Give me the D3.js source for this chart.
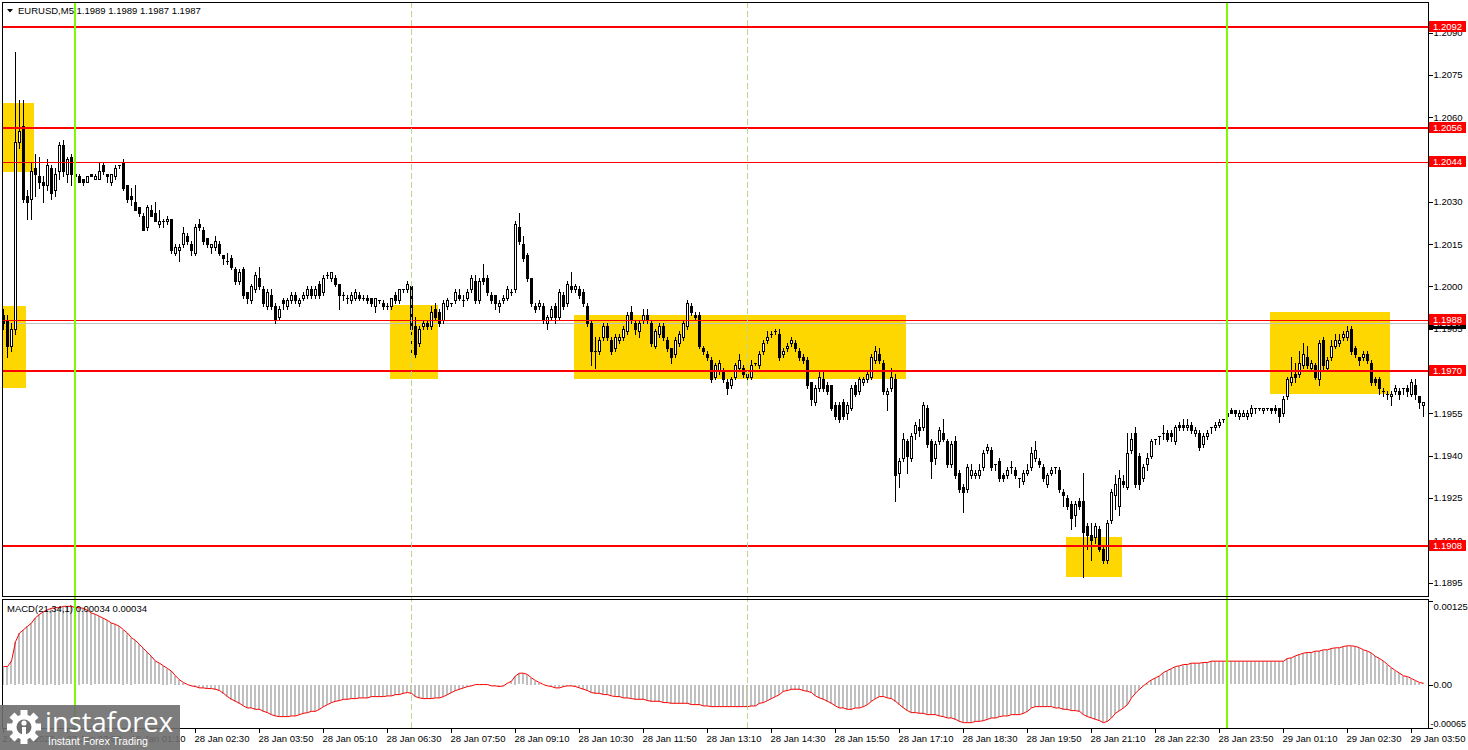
<html>
    <head>
        <script src="https://d3js.org/d3.v7.min.js"></script>
        <style>
            body { margin: 0; background: #fff; }
            svg text { font-family: "Liberation Sans", Arial, sans-serif; font-size: 9.5px; fill: #000; }
            .axis path.domain { display: none; }
            .axis line { stroke: #000; shape-rendering: crispEdges; }
            rect { shape-rendering: crispEdges; }
        </style>
    </head>
    <body>
        <script>
            var symbol = "EURUSD,M5";
            var quote = "1.1989 1.1989 1.1987 1.1987";
            var macdTitle = "MACD(21,34,1) 0.00034 0.00034";

            // one label every 16 bars (80 minutes)
            var timeLabels = ["27 Jan 2026", "27 Jan 23:50", "28 Jan 01:10", "28 Jan 02:30", "28 Jan 03:50",
                "28 Jan 05:10", "28 Jan 06:30", "28 Jan 07:50", "28 Jan 09:10", "28 Jan 10:30", "28 Jan 11:50",
                "28 Jan 13:10", "28 Jan 14:30", "28 Jan 15:50", "28 Jan 17:10", "28 Jan 18:30", "28 Jan 19:50",
                "28 Jan 21:10", "28 Jan 22:30", "28 Jan 23:50", "29 Jan 01:10", "29 Jan 02:30", "29 Jan 03:50"];
            var barsPerLabel = 16;
            var priceTicks = [1.2090, 1.2075, 1.2060, 1.2045, 1.2030, 1.2015, 1.2000, 1.1985, 1.1970,
                1.1955, 1.1940, 1.1925, 1.1910, 1.1895];
            var macdTicks = [0.00125, 0, -0.00065];
            var macdTickLabels = ["0.00125", "0.00", "-0.00065"];

            var strongLevels = [1.2092, 1.2056, 1.1970, 1.1908];
            var weakLevels = [1.2044, 1.1988];
            var bid = 1.1987;

            // yellow zones: first bar, last bar, top price, bottom price
            var zoneStart = [0, 0, 97, 143, 266, 317];
            var zoneEnd = [7, 5, 108, 225, 279, 346];
            var zoneTop = [1.2065, 1.1993, 1.19935, 1.1990, 1.1911, 1.1991];
            var zoneBottom = [1.20405, 1.1964, 1.1967, 1.1967, 1.1897, 1.1962];

            var dayBreaks = [18, 306];      // 00:00 bars
            var dashedMarks = [102, 186];   // 07:00 and 14:00 bars

            // open, high, low, close per 5 minute bar, from 27 Jan 22:30
            var ohlc = [
                [1.1990,1.1992,1.1985,1.1987],[1.1988,1.1990,1.1975,1.1979],[1.1979,1.1987,1.1977,1.1985],[1.1985,1.2083,1.1983,1.2051],
                [1.2051,1.2066,1.2049,1.2055],[1.2057,1.2066,1.2030,1.2031],[1.2032,1.2034,1.2024,1.2030],[1.2031,1.2044,1.2024,1.2041],
                [1.2042,1.2047,1.2032,1.2040],[1.2039,1.2046,1.2035,1.2037],[1.2037,1.2039,1.2030,1.2036],[1.2036,1.2045,1.2034,1.2043],
                [1.2042,1.2043,1.2031,1.2033],[1.2034,1.2042,1.2032,1.2040],[1.2041,1.2051,1.2038,1.2050],[1.2050,1.2052,1.2039,1.2041],
                [1.2040,1.2046,1.2037,1.2045],[1.2046,1.2047,1.2036,1.2040],[1.2039,1.2041,1.2038,1.2040],[1.2039,1.2040,1.2037,1.2037],
                [1.2038,1.2038,1.2036,1.2037],[1.2037,1.2039,1.2037,1.2039],[1.2040,1.2040,1.2039,1.2039],[1.2038,1.2040,1.2038,1.2039],
                [1.2038,1.2044,1.2038,1.2041],[1.2043,1.2044,1.2040,1.2041],[1.2040,1.2040,1.2037,1.2039],[1.2037,1.2040,1.2036,1.2040],
                [1.2039,1.2043,1.2038,1.2042],[1.2043,1.2043,1.2042,1.2043],[1.2044,1.2045,1.2034,1.2035],[1.2036,1.2036,1.2030,1.2031],
                [1.2032,1.2035,1.2029,1.2031],[1.2030,1.2036,1.2027,1.2027],[1.2028,1.2028,1.2025,1.2026],[1.2025,1.2026,1.2020,1.2020],
                [1.2021,1.2029,1.2020,1.2028],[1.2027,1.2029,1.2025,1.2025],[1.2026,1.2030,1.2023,1.2023],[1.2022,1.2027,1.2021,1.2023],
                [1.2023,1.2024,1.2021,1.2023],[1.2023,1.2025,1.2022,1.2024],[1.2024,1.2024,1.2012,1.2013],[1.2012,1.2015,1.2011,1.2014],
                [1.2013,1.2015,1.2009,1.2014],[1.2015,1.2021,1.2014,1.2019],[1.2018,1.2019,1.2015,1.2016],[1.2015,1.2016,1.2011,1.2013],
                [1.2012,1.2022,1.2011,1.2021],[1.2022,1.2024,1.2020,1.2021],[1.2020,1.2021,1.2015,1.2016],[1.2017,1.2017,1.2014,1.2015],
                [1.2014,1.2015,1.2012,1.2015],[1.2014,1.2018,1.2013,1.2016],[1.2015,1.2016,1.2011,1.2012],[1.2011,1.2011,1.2008,1.2010],
                [1.2009,1.2012,1.2008,1.2009],[1.2010,1.2011,1.2006,1.2007],[1.2006,1.2007,1.2001,1.2002],[1.2002,1.2006,1.2001,1.2005],
                [1.2006,1.2007,1.1996,1.1997],[1.1998,1.1998,1.1994,1.1996],[1.1995,1.2001,1.1994,1.2000],[1.1999,1.2005,1.1998,1.2004],
                [1.2003,1.2007,1.1999,1.2000],[1.1999,1.2000,1.1993,1.1994],[1.1993,1.1999,1.1992,1.1998],[1.1997,1.1999,1.1992,1.1993],
                [1.1993,1.1994,1.1987,1.1988],[1.1989,1.1993,1.1988,1.1992],[1.1995,1.1996,1.1992,1.1994],[1.1993,1.1996,1.1992,1.1995],
                [1.1995,1.1998,1.1994,1.1997],[1.1997,1.1998,1.1994,1.1995],[1.1994,1.1996,1.1993,1.1995],[1.1996,1.1998,1.1995,1.1997],
                [1.1997,1.2000,1.1996,1.1999],[1.1999,1.2000,1.1996,1.1997],[1.1997,1.2000,1.1996,1.1999],[1.2001,1.2002,1.1996,1.1997],
                [1.1998,1.2004,1.1997,1.2003],[1.2004,1.2005,1.2003,1.2004],[1.2003,1.2005,1.2002,1.2005],[1.2003,1.2004,1.2000,1.2001],
                [1.2001,1.2001,1.1992,1.1997],[1.1997,1.1998,1.1995,1.1997],[1.1996,1.1997,1.1994,1.1996],[1.1995,1.1998,1.1994,1.1997],
                [1.1996,1.1999,1.1995,1.1998],[1.1997,1.1998,1.1995,1.1996],[1.1996,1.1997,1.1995,1.1996],[1.1996,1.1997,1.1994,1.1995],
                [1.1996,1.1996,1.1993,1.1994],[1.1993,1.1996,1.1991,1.1996],[1.1995,1.1995,1.1994,1.1995],[1.1994,1.1995,1.1992,1.1993],
                [1.1993,1.1994,1.1992,1.1993],[1.1993,1.1996,1.1992,1.1996],[1.1997,1.1998,1.1994,1.1995],[1.1995,1.1999,1.1994,1.1999],
                [1.1999,1.1999,1.1998,1.1999],[1.1999,1.2002,1.1998,1.2001],[1.2000,1.2001,1.1976,1.1985],[1.1986,1.1989,1.1975,1.1976],
                [1.1980,1.1986,1.1979,1.1985],[1.1986,1.1988,1.1985,1.1987],[1.1987,1.1988,1.1985,1.1986],[1.1986,1.1993,1.1985,1.1991],
                [1.1992,1.1994,1.1988,1.1989],[1.1991,1.1992,1.1986,1.1987],[1.1988,1.1995,1.1987,1.1994],[1.1993,1.1996,1.1992,1.1995],
                [1.1994,1.1994,1.1993,1.1994],[1.1995,1.1999,1.1994,1.1998],[1.1997,1.1999,1.1995,1.1996],[1.1995,1.1997,1.1993,1.1995],
                [1.1996,1.1999,1.1995,1.1998],[1.1999,1.2004,1.1998,1.2003],[1.2002,1.2004,1.1994,1.1995],[1.1995,1.2003,1.1994,1.2002],
                [1.2003,1.2008,1.2001,1.2002],[1.2003,1.2004,1.1997,1.1998],[1.1997,1.1998,1.1994,1.1995],[1.1997,1.1997,1.1992,1.1994],
                [1.1993,1.1995,1.1991,1.1994],[1.1995,1.1997,1.1994,1.1996],[1.1996,1.2000,1.1995,1.1999],[1.1998,1.1999,1.1997,1.1998],
                [1.1999,1.2023,1.1998,1.2022],[1.2021,1.2026,1.2015,1.2016],[1.2015,1.2018,1.2009,1.2010],[1.2011,1.2012,1.2002,1.2003],
                [1.2003,1.2003,1.1993,1.1994],[1.1993,1.1994,1.1991,1.1992],[1.1993,1.1995,1.1992,1.1994],[1.1993,1.1994,1.1987,1.1988],
                [1.1987,1.1990,1.1985,1.1989],[1.1989,1.1993,1.1988,1.1992],[1.1993,1.1994,1.1987,1.1989],[1.1989,1.1999,1.1988,1.1998],
                [1.1997,1.1998,1.1992,1.1993],[1.1994,1.2002,1.1993,1.2001],[1.2000,1.2005,1.1998,1.1999],[1.1999,1.2001,1.1998,1.2000],
                [1.1999,1.2000,1.1996,1.1997],[1.1998,1.1999,1.1993,1.1994],[1.1993,1.1994,1.1986,1.1987],[1.1987,1.1988,1.1972,1.1977],
                [1.1977,1.1982,1.1971,1.1977],[1.1977,1.1982,1.1976,1.1981],[1.1982,1.1987,1.1981,1.1986],[1.1986,1.1987,1.1981,1.1982],
                [1.1981,1.1982,1.1976,1.1977],[1.1978,1.1983,1.1977,1.1982],[1.1981,1.1983,1.1980,1.1982],[1.1982,1.1986,1.1981,1.1985],
                [1.1984,1.1991,1.1983,1.1990],[1.1991,1.1993,1.1987,1.1988],[1.1987,1.1988,1.1983,1.1985],[1.1984,1.1988,1.1982,1.1987],
                [1.1988,1.1992,1.1987,1.1990],[1.1990,1.1992,1.1987,1.1988],[1.1987,1.1988,1.1979,1.1980],[1.1979,1.1985,1.1978,1.1984],
                [1.1983,1.1987,1.1982,1.1986],[1.1986,1.1987,1.1981,1.1982],[1.1981,1.1982,1.1977,1.1978],[1.1978,1.1978,1.1973,1.1975],
                [1.1976,1.1982,1.1975,1.1981],[1.1980,1.1984,1.1979,1.1983],[1.1982,1.1988,1.1981,1.1987],[1.1986,1.1995,1.1985,1.1994],
                [1.1993,1.1994,1.1990,1.1991],[1.1990,1.1991,1.1988,1.1989],[1.1990,1.1991,1.1978,1.1979],[1.1978,1.1979,1.1976,1.1977],
                [1.1976,1.1977,1.1974,1.1975],[1.1974,1.1975,1.1966,1.1967],[1.1968,1.1973,1.1967,1.1972],[1.1970,1.1974,1.1969,1.1973],
                [1.1970,1.1971,1.1966,1.1967],[1.1966,1.1967,1.1962,1.1964],[1.1965,1.1968,1.1964,1.1967],[1.1968,1.1973,1.1967,1.1972],
                [1.1971,1.1976,1.1970,1.1974],[1.1971,1.1972,1.1968,1.1969],[1.1968,1.1970,1.1967,1.1969],[1.1968,1.1974,1.1967,1.1972],
                [1.1973,1.1973,1.1972,1.1973],[1.1972,1.1977,1.1971,1.1976],[1.1977,1.1981,1.1976,1.1980],[1.1981,1.1984,1.1980,1.1982],
                [1.1983,1.1984,1.1982,1.1983],[1.1984,1.1985,1.1983,1.1984],[1.1983,1.1985,1.1974,1.1975],[1.1976,1.1978,1.1975,1.1977],
                [1.1978,1.1980,1.1977,1.1979],[1.1980,1.1982,1.1979,1.1981],[1.1980,1.1981,1.1977,1.1978],[1.1977,1.1978,1.1974,1.1975],
                [1.1975,1.1976,1.1973,1.1974],[1.1974,1.1975,1.1964,1.1965],[1.1966,1.1966,1.1958,1.1960],[1.1959,1.1965,1.1958,1.1964],
                [1.1964,1.1970,1.1963,1.1968],[1.1967,1.1970,1.1963,1.1964],[1.1965,1.1966,1.1962,1.1963],[1.1965,1.1965,1.1956,1.1957],
                [1.1958,1.1959,1.1953,1.1954],[1.1958,1.1959,1.1952,1.1953],[1.1959,1.1960,1.1953,1.1954],[1.1955,1.1959,1.1953,1.1958],
                [1.1957,1.1965,1.1956,1.1964],[1.1965,1.1966,1.1961,1.1962],[1.1963,1.1968,1.1962,1.1967],[1.1966,1.1968,1.1965,1.1967],
                [1.1967,1.1970,1.1966,1.1969],[1.1968,1.1976,1.1967,1.1975],[1.1974,1.1979,1.1973,1.1977],[1.1976,1.1978,1.1973,1.1974],
                [1.1973,1.1974,1.1962,1.1963],[1.1962,1.1964,1.1956,1.1963],[1.1964,1.1971,1.1963,1.1968],[1.1967,1.1969,1.1924,1.1933],
                [1.1934,1.1939,1.1929,1.1938],[1.1939,1.1948,1.1938,1.1946],[1.1945,1.1946,1.1934,1.1940],[1.1939,1.1948,1.1938,1.1947],
                [1.1948,1.1952,1.1946,1.1951],[1.1950,1.1953,1.1947,1.1949],[1.1950,1.1959,1.1949,1.1958],[1.1957,1.1958,1.1943,1.1944],
                [1.1945,1.1946,1.1932,1.1938],[1.1939,1.1945,1.1937,1.1944],[1.1945,1.1950,1.1944,1.1949],[1.1948,1.1953,1.1945,1.1946],
                [1.1945,1.1946,1.1936,1.1937],[1.1937,1.1945,1.1936,1.1944],[1.1945,1.1947,1.1932,1.1933],[1.1934,1.1935,1.1927,1.1928],
                [1.1929,1.1930,1.1920,1.1927],[1.1928,1.1937,1.1927,1.1936],[1.1933,1.1937,1.1932,1.1935],[1.1933,1.1935,1.1932,1.1934],
                [1.1933,1.1937,1.1932,1.1935],[1.1936,1.1942,1.1935,1.1941],[1.1942,1.1944,1.1941,1.1943],[1.1942,1.1943,1.1935,1.1936],
                [1.1937,1.1937,1.1935,1.1937],[1.1938,1.1939,1.1931,1.1932],[1.1933,1.1934,1.1931,1.1932],[1.1933,1.1936,1.1932,1.1935],
                [1.1936,1.1938,1.1934,1.1936],[1.1935,1.1936,1.1932,1.1933],[1.1932,1.1932,1.1929,1.1932],[1.1931,1.1935,1.1930,1.1934],
                [1.1934,1.1937,1.1933,1.1935],[1.1936,1.1943,1.1935,1.1941],[1.1939,1.1945,1.1938,1.1942],[1.1938,1.1939,1.1936,1.1937],
                [1.1936,1.1937,1.1931,1.1932],[1.1930,1.1934,1.1929,1.1933],[1.1934,1.1936,1.1933,1.1935],[1.1936,1.1936,1.1934,1.1936],
                [1.1935,1.1936,1.1927,1.1928],[1.1927,1.1928,1.1922,1.1926],[1.1925,1.1926,1.1921,1.1922],[1.1923,1.1924,1.1914,1.1918],
                [1.1919,1.1924,1.1915,1.1923],[1.1924,1.1925,1.1921,1.1922],[1.1924,1.1934,1.1897,1.1913],[1.1915,1.1916,1.1907,1.1912],
                [1.1912,1.1916,1.1903,1.1910],[1.1911,1.1916,1.1909,1.1915],[1.1914,1.1915,1.1906,1.1907],[1.1907,1.1908,1.1902,1.1903],
                [1.1903,1.1917,1.1902,1.1916],[1.1917,1.1928,1.1916,1.1927],[1.1926,1.1933,1.1921,1.1930],[1.1922,1.1935,1.1919,1.1932],
                [1.1931,1.1933,1.1929,1.1930],[1.1929,1.1948,1.1928,1.1941],[1.1942,1.1948,1.1941,1.1946],[1.1948,1.1950,1.1929,1.1930],
                [1.1940,1.1941,1.1928,1.1930],[1.1932,1.1937,1.1931,1.1936],[1.1937,1.1941,1.1935,1.1939],[1.1940,1.1946,1.1939,1.1945],
                [1.1946,1.1946,1.1944,1.1946],[1.1947,1.1947,1.1944,1.1947],[1.1948,1.1951,1.1946,1.1948],[1.1948,1.1949,1.1945,1.1946],
                [1.1948,1.1949,1.1945,1.1947],[1.1945,1.1951,1.1944,1.1950],[1.1951,1.1952,1.1949,1.1950],[1.1951,1.1953,1.1949,1.1950],
                [1.1950,1.1953,1.1949,1.1951],[1.1951,1.1952,1.1948,1.1949],[1.1948,1.1950,1.1947,1.1949],[1.1948,1.1949,1.1942,1.1943],
                [1.1944,1.1948,1.1943,1.1947],[1.1947,1.1949,1.1946,1.1948],[1.1950,1.1950,1.1948,1.1950],[1.1950,1.1952,1.1949,1.1951],
                [1.1951,1.1953,1.1950,1.1952],[1.1953,1.1953,1.1952,1.1953],[1.1954,1.1956,1.1953,1.1955],[1.1956,1.1957,1.1955,1.1955],
                [1.1956,1.1956,1.1954,1.1955],[1.1954,1.1956,1.1953,1.1955],[1.1954,1.1956,1.1954,1.1955],[1.1954,1.1956,1.1953,1.1955],
                [1.1955,1.1958,1.1954,1.1957],[1.1957,1.1957,1.1955,1.1957],[1.1957,1.1957,1.1956,1.1957],[1.1956,1.1957,1.1955,1.1957],
                [1.1957,1.1957,1.1956,1.1957],[1.1957,1.1957,1.1955,1.1956],[1.1957,1.1958,1.1955,1.1956],[1.1957,1.1957,1.1952,1.1954],
                [1.1955,1.1961,1.1954,1.1960],[1.1961,1.1968,1.1960,1.1967],[1.1966,1.1975,1.1965,1.1968],[1.1969,1.1973,1.1966,1.1968],
                [1.1969,1.1977,1.1968,1.1973],[1.1972,1.1980,1.1971,1.1976],[1.1975,1.1979,1.1971,1.1972],[1.1971,1.1974,1.1970,1.1973],
                [1.1972,1.1973,1.1967,1.1968],[1.1967,1.1981,1.1965,1.1980],[1.1981,1.1982,1.1970,1.1972],[1.1971,1.1975,1.1970,1.1974],
                [1.1975,1.1981,1.1974,1.1979],[1.1979,1.1983,1.1978,1.1981],[1.1980,1.1983,1.1979,1.1981],[1.1982,1.1984,1.1981,1.1983],
                [1.1982,1.1986,1.1981,1.1984],[1.1985,1.1986,1.1976,1.1977],[1.1978,1.1979,1.1975,1.1976],[1.1975,1.1975,1.1972,1.1974],
                [1.1975,1.1977,1.1974,1.1976],[1.1976,1.1977,1.1973,1.1974],[1.1973,1.1974,1.1965,1.1966],[1.1967,1.1968,1.1965,1.1966],
                [1.1967,1.1968,1.1962,1.1964],[1.1963,1.1964,1.1961,1.1963],[1.1962,1.1963,1.1960,1.1962],[1.1961,1.1963,1.1958,1.1962],
                [1.1963,1.1965,1.1962,1.1964],[1.1963,1.1964,1.1960,1.1962],[1.1964,1.1964,1.1962,1.1964],[1.1964,1.1965,1.1961,1.1963],
                [1.1962,1.1967,1.1961,1.1966],[1.1965,1.1967,1.1960,1.1962],[1.1961,1.1961,1.1957,1.1959],[1.1958,1.1959,1.1954,1.1959]
            ];

            // MACD(21,34,1) main value per bar; the signal is the same with period 1
            var macd = [
                0.00027,0.00027,0.00035,0.00064,0.00077,0.00082,0.00087,0.00092,0.00100,0.00105,
                0.00109,0.00112,0.00114,0.00115,0.00115,0.00117,0.00117,0.00117,0.00115,0.00115,
                0.00114,0.00111,0.00107,0.00105,0.00102,0.00099,0.00096,0.00092,0.00090,0.00087,
                0.00082,0.00077,0.00070,0.00066,0.00060,0.00054,0.00048,0.00042,0.00035,0.00032,
                0.00028,0.00024,0.00020,0.00013,0.00007,0.00003,0.00000,-0.00002,-0.00003,-0.00005,
                -0.00005,-0.00006,-0.00006,-0.00007,-0.00009,-0.00013,-0.00018,-0.00022,-0.00025,-0.00028,
                -0.00032,-0.00035,-0.00035,-0.00037,-0.00037,-0.00040,-0.00042,-0.00045,-0.00047,-0.00048,
                -0.00048,-0.00048,-0.00047,-0.00047,-0.00045,-0.00043,-0.00042,-0.00040,-0.00040,-0.00037,
                -0.00033,-0.00030,-0.00027,-0.00025,-0.00024,-0.00022,-0.00022,-0.00021,-0.00021,-0.00020,
                -0.00020,-0.00020,-0.00018,-0.00018,-0.00018,-0.00018,-0.00017,-0.00017,-0.00015,-0.00015,
                -0.00013,-0.00012,-0.00013,-0.00018,-0.00020,-0.00021,-0.00021,-0.00021,-0.00020,-0.00020,
                -0.00018,-0.00015,-0.00012,-0.00009,-0.00007,-0.00005,-0.00003,-0.00002,0.00000,0.00000,
                0.00000,0.00000,-0.00002,-0.00002,-0.00003,-0.00002,0.00002,0.00005,0.00013,0.00017,
                0.00017,0.00015,0.00010,0.00006,0.00003,0.00000,-0.00002,-0.00003,-0.00005,-0.00005,
                -0.00003,-0.00002,-0.00002,-0.00003,-0.00005,-0.00007,-0.00009,-0.00012,-0.00013,-0.00013,
                -0.00015,-0.00015,-0.00017,-0.00018,-0.00018,-0.00020,-0.00020,-0.00021,-0.00022,-0.00022,
                -0.00022,-0.00024,-0.00025,-0.00025,-0.00025,-0.00027,-0.00027,-0.00028,-0.00028,-0.00028,
                -0.00028,-0.00028,-0.00030,-0.00030,-0.00030,-0.00032,-0.00032,-0.00033,-0.00033,-0.00033,
                -0.00033,-0.00033,-0.00033,-0.00033,-0.00033,-0.00033,-0.00033,-0.00032,-0.00032,-0.00028,
                -0.00027,-0.00024,-0.00021,-0.00018,-0.00015,-0.00010,-0.00009,-0.00007,-0.00007,-0.00007,
                -0.00009,-0.00010,-0.00012,-0.00017,-0.00020,-0.00022,-0.00025,-0.00028,-0.00032,-0.00035,
                -0.00035,-0.00037,-0.00037,-0.00035,-0.00035,-0.00033,-0.00030,-0.00025,-0.00021,-0.00018,
                -0.00018,-0.00020,-0.00021,-0.00025,-0.00030,-0.00035,-0.00039,-0.00042,-0.00042,-0.00043,
                -0.00043,-0.00045,-0.00045,-0.00045,-0.00047,-0.00048,-0.00050,-0.00050,-0.00052,-0.00055,
                -0.00057,-0.00057,-0.00057,-0.00055,-0.00055,-0.00054,-0.00052,-0.00050,-0.00050,-0.00048,
                -0.00047,-0.00047,-0.00045,-0.00045,-0.00045,-0.00043,-0.00040,-0.00035,-0.00033,-0.00033,
                -0.00033,-0.00033,-0.00033,-0.00035,-0.00035,-0.00037,-0.00037,-0.00039,-0.00039,-0.00040,
                -0.00045,-0.00048,-0.00050,-0.00052,-0.00054,-0.00057,-0.00055,-0.00050,-0.00043,-0.00039,
                -0.00035,-0.00030,-0.00020,-0.00013,-0.00007,-0.00002,0.00003,0.00007,0.00010,0.00013,
                0.00018,0.00021,0.00024,0.00027,0.00028,0.00030,0.00030,0.00032,0.00032,0.00032,
                0.00033,0.00033,0.00035,0.00035,0.00035,0.00035,0.00035,0.00035,0.00035,0.00035,
                0.00035,0.00035,0.00035,0.00035,0.00035,0.00035,0.00035,0.00035,0.00035,0.00035,
                0.00035,0.00039,0.00040,0.00043,0.00045,0.00047,0.00048,0.00048,0.00050,0.00050,
                0.00052,0.00052,0.00054,0.00055,0.00055,0.00057,0.00058,0.00058,0.00057,0.00055,
                0.00052,0.00050,0.00047,0.00042,0.00039,0.00035,0.00030,0.00025,0.00021,0.00017,
                0.00013,0.00012,0.00009,0.00006,0.00003,0.00002
            ];

            var width = 1468, height = 750;
            var frameLeft = 2, frameRight = 1428;
            var mainTop = 2, mainBottom = 597, subTop = 599, subBottom = 728;

            var x = d3.scaleLinear()
                .domain([0, ohlc.length - 1])
                .range([3, 3 + 4 * (ohlc.length - 1)]);
            var y = d3.scaleLinear()
                .domain([1.1895, 1.2090])
                .range([582.5, 32.5]);
            var ym = d3.scaleLinear()
                .domain([-0.00065, 0.00125])
                .range([subBottom, subTop + 2]);

            var svg = d3.select("body").append("svg")
                .attr("width", width)
                .attr("height", height);

            svg.append("rect").attr("width", width).attr("height", height).attr("fill", "#fff");

            svg.append("clipPath").attr("id", "mainClip")
                .append("rect")
                    .attr("x", frameLeft).attr("y", mainTop)
                    .attr("width", frameRight - frameLeft).attr("height", mainBottom - mainTop);
            svg.append("clipPath").attr("id", "subClip")
                .append("rect")
                    .attr("x", frameLeft).attr("y", subTop)
                    .attr("width", frameRight - frameLeft).attr("height", subBottom - subTop);

            var plot = svg.append("g").attr("clip-path", "url(#mainClip)");

            // support / resistance zones
            plot.selectAll(".zone")
                .data(zoneStart)
                .enter().append("rect")
                    .attr("class", "zone")
                    .attr("x", function(d) { return x(d) - 1; })
                    .attr("width", function(d, i) { return x(zoneEnd[i]) + 3 - (x(d) - 1); })
                    .attr("y", function(d, i) { return Math.round(y(zoneTop[i])); })
                    .attr("height", function(d, i) { return Math.round(y(zoneBottom[i])) - Math.round(y(zoneTop[i])); })
                    .attr("fill", "#ffd700");

            // bid line
            plot.append("rect")
                .attr("x", frameLeft).attr("width", frameRight - frameLeft)
                .attr("y", Math.round(y(bid))).attr("height", 1)
                .attr("fill", "#c0c0c0");

            // candles
            var candle = plot.selectAll(".candle")
                .data(ohlc)
                .enter().append("g")
                    .attr("class", "candle");

            candle.append("rect")
                .attr("x", function(d, i) { return x(i); })
                .attr("y", function(d) { return Math.round(y(Math.max(d[1], d[0], d[3]))); })
                .attr("width", 1)
                .attr("height", function(d) {
                    return Math.round(y(Math.min(d[2], d[0], d[3]))) - Math.round(y(Math.max(d[1], d[0], d[3]))) + 1;
                })
                .attr("fill", "#000");

            candle.append("rect")
                .attr("x", function(d, i) { return x(i) - 1; })
                .attr("y", function(d) { return Math.round(y(Math.max(d[0], d[3]))); })
                .attr("width", 3)
                .attr("height", function(d) {
                    return Math.max(1, Math.round(y(Math.min(d[0], d[3]))) - Math.round(y(Math.max(d[0], d[3]))) + 1);
                })
                .attr("fill", "#000");

            candle.filter(function(d) {
                    return d[3] > d[0] && Math.round(y(d[0])) - Math.round(y(d[3])) >= 2;
                })
                .append("rect")
                    .attr("x", function(d) { return x(ohlc.indexOf(d)); })
                    .attr("y", function(d) { return Math.round(y(d[3])) + 1; })
                    .attr("width", 1)
                    .attr("height", function(d) { return Math.round(y(d[0])) - Math.round(y(d[3])) - 1; })
                    .attr("fill", "#fff");

            // horizontal levels
            plot.selectAll(".strong")
                .data(strongLevels)
                .enter().append("rect")
                    .attr("x", frameLeft).attr("width", frameRight - frameLeft)
                    .attr("y", function(d) { return Math.round(y(d)) - 1; })
                    .attr("height", 2)
                    .attr("fill", "#ff0000");
            plot.selectAll(".weak")
                .data(weakLevels)
                .enter().append("rect")
                    .attr("x", frameLeft).attr("width", frameRight - frameLeft)
                    .attr("y", function(d) { return Math.round(y(d)); })
                    .attr("height", 1)
                    .attr("fill", "#ff0000");

            // MACD pane
            var sub = svg.append("g").attr("clip-path", "url(#subClip)");

            sub.selectAll(".hist")
                .data(macd)
                .enter().append("rect")
                    .attr("x", function(d, i) { return x(i) - 1; })
                    .attr("width", 2)
                    .attr("y", function(d) { return Math.round(Math.min(ym(d), ym(0))); })
                    .attr("height", function(d) { return Math.max(0, Math.round(Math.abs(ym(d) - ym(0)))); })
                    .attr("fill", "#c0c0c0");

            var signal = d3.line()
                .x(function(d, i) { return x(i) + 0.5; })
                .y(function(d) { return ym(d); });

            sub.append("path")
                .datum(macd)
                .attr("d", signal)
                .attr("fill", "none")
                .attr("stroke", "#ff0000")
                .attr("stroke-width", 1);

            // vertical markers across both panes
            svg.selectAll(".day")
                .data(dayBreaks)
                .enter().append("rect")
                    .attr("x", function(d) { return x(d) - 1; })
                    .attr("width", 2)
                    .attr("y", mainTop).attr("height", subBottom - mainTop)
                    .attr("fill", "#7cfc00");
            svg.selectAll(".mark")
                .data(dashedMarks)
                .enter().append("line")
                    .attr("x1", function(d) { return x(d) + 0.5; })
                    .attr("x2", function(d) { return x(d) + 0.5; })
                    .attr("y1", mainTop).attr("y2", subBottom)
                    .attr("stroke", "#b8d890")
                    .attr("stroke-dasharray", "6,3");

            // frames
            svg.append("rect")
                .attr("x", frameLeft + 0.5).attr("y", mainTop + 0.5)
                .attr("width", frameRight - frameLeft).attr("height", mainBottom - mainTop - 1)
                .attr("fill", "none").attr("stroke", "#000");
            svg.append("rect")
                .attr("x", frameLeft + 0.5).attr("y", subTop + 0.5)
                .attr("width", frameRight - frameLeft).attr("height", subBottom - subTop)
                .attr("fill", "none").attr("stroke", "#000");

            // price axis
            svg.append("g").attr("class", "axis")
                .attr("transform", "translate(" + (frameRight + 0.5) + ",0)")
                .call(d3.axisRight(y)
                    .tickValues(priceTicks)
                    .tickSize(4)
                    .tickPadding(1)
                    .tickFormat(d3.format(".4f")));

            // MACD axis
            var macdAxis = svg.append("g").attr("class", "axis")
                .attr("transform", "translate(" + (frameRight + 0.5) + ",0)")
                .call(d3.axisRight(ym)
                    .tickValues(macdTicks)
                    .tickSize(4)
                    .tickPadding(1)
                    .tickFormat(function(d, i) { return macdTickLabels[i]; }));
            macdAxis.selectAll("text")
                .attr("dy", function(d, i) { return i === 0 ? "0.9em" : (i === 2 ? "-0.2em" : "0.32em"); })
                .attr("x", function(d, i) { return i === 2 ? 2 : 5; })
                .style("font-size", function(d, i) { return i === 2 ? "9px" : null; });

            // time axis
            var tickBars = timeLabels.map(function(t, i) { return i * barsPerLabel; });
            svg.append("g").attr("class", "axis")
                .attr("transform", "translate(0," + (subBottom + 0.5) + ")")
                .call(d3.axisBottom(x)
                    .tickValues(tickBars)
                    .tickSize(4)
                    .tickPadding(3)
                    .tickFormat(function(d, i) { return timeLabels[i]; }))
                .selectAll("text")
                    .attr("text-anchor", "start")
                    .attr("x", -1);

            // price labels on the scale
            var bidTag = svg.append("g")
                .attr("transform", "translate(" + (frameRight + 1) + "," + Math.round(y(bid)) + ")");
            bidTag.append("rect").attr("x", 0).attr("y", -5).attr("width", 37).attr("height", 11).attr("fill", "#000");
            bidTag.append("text").attr("x", 4).attr("dy", "0.35em").style("fill", "#fff").text(d3.format(".4f")(bid));

            var tags = svg.selectAll(".tag")
                .data(strongLevels.concat(weakLevels))
                .enter().append("g")
                    .attr("transform", function(d) { return "translate(" + (frameRight + 1) + "," + Math.round(y(d)) + ")"; });
            tags.append("rect")
                .attr("x", 0).attr("y", -6).attr("width", 37).attr("height", 11)
                .attr("fill", "#ff0000");
            tags.append("text")
                .attr("x", 4).attr("dy", "0.3em")
                .style("fill", "#fff")
                .text(d3.format(".4f"));

            // titles
            svg.append("path").attr("d", "M7,9L13,9L10,12.5Z").attr("fill", "#000");
            svg.append("text").attr("x", 18).attr("y", 14).text(symbol + "  " + quote);
            svg.append("text").attr("x", 7).attr("y", 612).text(macdTitle);

            // watermark
            var logo = svg.append("g");
            logo.append("rect")
                .attr("x", 0).attr("y", 705).attr("width", 180).attr("height", 45)
                .attr("fill", "#6e6e6e").attr("opacity", 0.9);
            var gear = logo.append("g").attr("transform", "translate(24,727)");
            d3.range(8).forEach(function(k) {
                gear.append("rect")
                    .attr("x", -3.5).attr("y", -17).attr("width", 7).attr("height", 8)
                    .attr("fill", "#fff")
                    .attr("transform", "rotate(" + (k * 45) + ")")
                    .style("shape-rendering", "auto");
            });
            gear.append("circle").attr("r", 12.5).attr("fill", "#fff");
            gear.append("circle").attr("r", 7.5).attr("fill", "#6e6e6e");
            gear.append("circle").attr("cx", 0).attr("cy", -4).attr("r", 2.6).attr("fill", "#fff");
            gear.append("rect").attr("x", -2).attr("y", -0.5).attr("width", 4).attr("height", 13).attr("fill", "#fff");
            logo.append("text")
                .attr("x", 45).attr("y", 732)
                .attr("textLength", 128).attr("lengthAdjust", "spacingAndGlyphs")
                .style("font-family", "'Open Sans', sans-serif")
                .style("font-size", "27px")
                .style("fill", "#fff")
                .text("instaforex");
            logo.append("text")
                .attr("x", 48).attr("y", 745)
                .attr("textLength", 100).attr("lengthAdjust", "spacingAndGlyphs")
                .style("font-size", "10px")
                .style("fill", "#fff")
                .text("Instant Forex Trading");
        </script>
    </body>
</html>
